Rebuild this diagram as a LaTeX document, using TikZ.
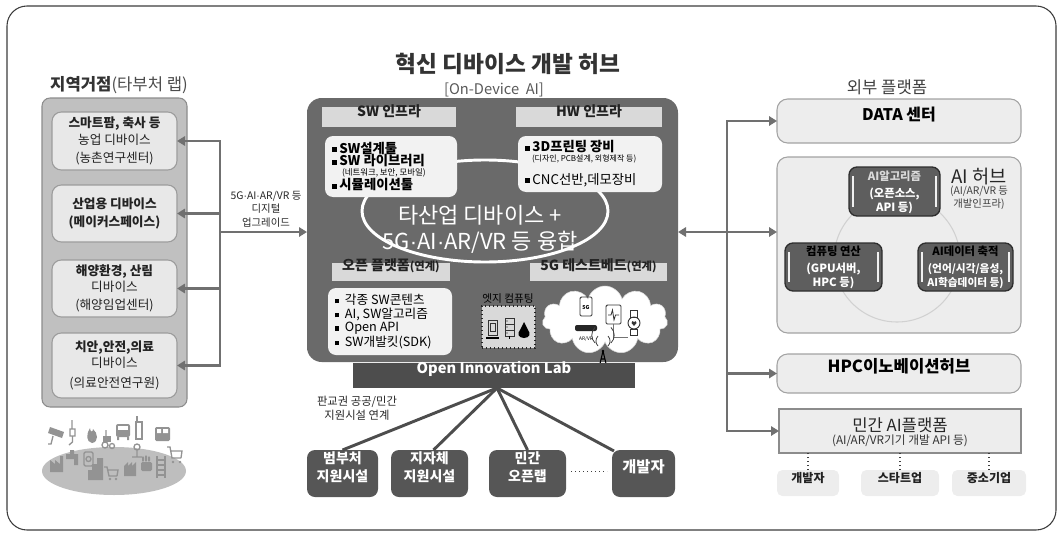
\documentclass[tikz,border=0pt]{standalone}
\usepackage{fontspec}
\setmainfont{Noto Sans CJK KR}
\newfontfamily\dotfont{Liberation Sans}
\usetikzlibrary{arrows.meta,fit,shapes.symbols,calc}

\definecolor{framec}{HTML}{3C3C3C}
\definecolor{arrowgray}{HTML}{707070}
\definecolor{panelfill}{HTML}{C0C0C0}
\definecolor{paneledge}{HTML}{8C8C8C}
\definecolor{boxfill}{HTML}{E8E8E8}
\definecolor{boxedge}{HTML}{9C9C9C}
\definecolor{hubfill}{HTML}{6A6A6A}
\definecolor{hdrfill}{HTML}{D9D9D9}
\definecolor{cardfill}{HTML}{F2F2F2}
\definecolor{darkfill}{HTML}{565656}
\definecolor{labfill}{HTML}{4D4D4D}
\definecolor{extfill}{HTML}{EDEDED}
\definecolor{extedge}{HTML}{A3A3A3}
\definecolor{glossfill}{HTML}{5E5E5E}
\definecolor{glossedge}{HTML}{2E2E2E}
\definecolor{icongray}{HTML}{939393}
\definecolor{basefill}{HTML}{BEBEBE}
\definecolor{textdark}{HTML}{222222}

\newcommand\sqb{\rule[0.1em]{0.34em}{0.34em}\hspace{0.22em}}
\newcommand\setfs[2]{\fontsize{#1}{#2}\selectfont}
\newcommand\mdot{{\dotfont ·}}

\tikzset{
  every node/.style={inner sep=0pt, outer sep=0pt, align=center},
  panel/.style={draw=paneledge, fill=panelfill, line width=0.8pt, rounded corners=6pt},
  lbox/.style={draw=boxedge, fill=boxfill, line width=0.8pt, rounded corners=7pt},
  hubbox/.style={fill=hubfill, rounded corners=11pt},
  hdr/.style={fill=hdrfill},
  card/.style={fill=cardfill, rounded corners=6pt},
  darkbox/.style={fill=darkfill, rounded corners=6pt, text=white, font=\setfs{10.5}{13.5}\bfseries},
  extbox/.style={draw=extedge, fill=extfill, line width=0.8pt, rounded corners=8pt},
  glossy/.style={draw=glossedge, fill=glossfill, line width=1pt, rounded corners=6pt},
  shine/.style={draw=white!88!gray, line width=1.1pt},
  tagbox/.style={fill=extfill, rounded corners=4pt, font=\setfs{9}{11}\bfseries, text=textdark},
  gline/.style={draw=arrowgray, line width=2.2pt, line cap=rect},
  garrow/.style={draw=arrowgray, line width=2.2pt, -{Triangle[length=6pt,width=7pt]}},
  linkline/.style={draw=labfill, line width=2.2pt},
  dotlink/.style={draw=black!75, line width=1pt, dotted},
  icon/.style={fill=icongray},
  iconline/.style={draw=icongray, line width=1pt},
  gadget/.style={draw=black!80, line width=0.7pt},
}

\begin{document}
\begin{tikzpicture}[x=0.75pt,y=-0.75pt]
\useasboundingbox (0,0) rectangle (1063,535);

% outer frame
\draw[framec, line width=0.8pt, rounded corners=15pt] (7,6) rectangle (1056,530);

% ---------------- title of the hub ----------------
\node[font=\setfs{17}{20}\bfseries, text=black!80] (title) at (508,64) {혁신 디바이스 개발 허브};
\node[font=\setfs{11}{13}, text=black!65] (subtitle) at (494,89.5) {[On-Device\ \ AI]};

% ---------------- regional sites (left) ----------------
\node[font=\setfs{12.5}{15}, text=black!80] (ltitle) at (119,85) {{\bfseries 지역거점}{\color{black!70}(타부처 랩)}};
\node[panel, fit={(42,98)(187,407)}] (lpanel) {};

\node[lbox, fit={(52,112)(177,170)}] (agri) {};
\node[font=\setfs{9.5}{12.5}, text=textdark] (agrit) at (agri.center) {{\bfseries 스마트팜, 축사 등}\\ 농업 디바이스\\[1.5pt] (농촌연구센터)};

\node[lbox, fit={(52,185)(177,242)}] (indu) {};
\node[font=\setfs{9.5}{13}\bfseries, text=textdark] (indut) at (indu.center) {산업용 디바이스\\ (메이커스페이스)};

\node[lbox, fit={(52,260)(177,317)}] (ocean) {};
\node[font=\setfs{9.5}{12}, text=textdark] (oceant) at (ocean.center) {{\bfseries 해양환경, 산림}\\ 디바이스\\[2pt] (해양임업센터)};

\node[lbox, fit={(52,333)(177,398)}] (med) {};
\node[font=\setfs{9.5}{12}, text=textdark] (medt) at (med.center) {{\bfseries 치안,안전,의료}\\ 디바이스\\[3pt] (의료안전연구원)};

% device pictograms on an ellipse
\fill[basefill] (114,471) ellipse [x radius=72, y radius=24];
\begin{scope}
  % camera
  \fill[icongray] (50,427) -- (64,432) -- (62,438) -- (48,433) -- cycle;
  \draw[iconline] (53,436) -- (51,444) -- (48,444);
  % plug
  \draw[iconline] (72,420) -- (72,429) (70,429) rectangle (75,436) (72.5,436) -- (72.5,442) -- (69,445);
  % flame
  \fill[icongray] (92,443) .. controls (86,442) and (86,434) .. (90,428) .. controls (90,432) and (93,433) .. (93,429) .. controls (98,433) and (99,442) .. (92,443) -- cycle;
  % tractor
  \fill[icongray] (103,436) rectangle (111,442);
  \draw[iconline] (105,445) circle [radius=3] (112,446) circle [radius=2.5] (106,436) -- (106,430);
  % car
  \fill[icongray, rounded corners=1.5pt] (116,424) rectangle (130,437);
  \fill[white] (118,426) rectangle (128,430);
  \fill[icongray] (117,437) rectangle (119,440) (127,437) rectangle (129,440);
  % handset
  \draw[iconline] (136,422) rectangle (142,439) (137,422) -- (137,416);
  % bus
  \fill[icongray, rounded corners=1pt] (155,427) rectangle (170,441);
  \fill[white] (157,429) rectangle (161,433) (163,429) rectangle (168,433);
  % factory
  \fill[icongray] (50,472) -- (50,460) -- (55,464) -- (55,460) -- (60,464) -- (60,456) -- (63,456) -- (63,472) -- cycle;
  % faucet
  \fill[icongray] (66,454) rectangle (78,459) (70,450) rectangle (74,454) (74,459) rectangle (78,465);
  % meter
  \draw[iconline, rounded corners=1pt] (84,452) rectangle (93,466);
  \draw[iconline] (88.5,459) circle [radius=2.5];
  % buildings
  \fill[icongray] (92,480) rectangle (97,464) (97,480) rectangle (103,458) (88,480) rectangle (92,470);
  % cart
  \draw[iconline] (104,467) -- (107,467) -- (109,476) -- (117,476) (107.5,470) -- (118,470) -- (117,476);
  \fill[icongray] (110,479) circle [radius=1.3] (116,479) circle [radius=1.3];
  % factory roof
  \fill[icongray] (124,476) -- (124,466) -- (128,462) -- (128,466) -- (132,462) -- (132,466) -- (136,462) -- (136,476) -- cycle;
  % hydrant
  \draw[iconline] (137,447) circle [radius=3] (137,450) -- (137,456) (132,457) -- (142,457);
  % hand
  \fill[icongray, rounded corners=1pt] (141,462) rectangle (152,471) (142,456) rectangle (144,462) (145,455) rectangle (147,462) (148,456) rectangle (150,462);
  % ladder
  \draw[iconline] (157,456) -- (157,478) (165,456) -- (165,478)
    (157,460) -- (165,460) (157,465) -- (165,465) (157,470) -- (165,470) (157,475) -- (165,475);
  % trolley
  \draw[iconline] (167,447) -- (170,447) -- (172,458) -- (181,458) (171,451) -- (182,451) -- (181,458);
  \fill[icongray] (173,462) circle [radius=1.3] (180,462) circle [radius=1.3];
\end{scope}

% ---------------- central hub ----------------
\node[hubbox, fit={(307,98)(678,362)}] (hub) {};
\draw[white, line width=2.2pt] (485,211) ellipse [x radius=123, y radius=51];
\node[font=\setfs{16.5}{19.5}, text=white] (fusion) at (480,229) {타산업 디바이스 +\\5G\mdot AI\mdot AR/VR 등 융합};

\node[hdr, fit={(322,107)(456,127)}, font=\setfs{10.5}{12}\bfseries, text=textdark] (swh) {SW 인프라};
\node[hdr, fit={(516,107)(662,127)}, font=\setfs{10.5}{12}\bfseries, text=textdark] (hwh) {HW 인프라};

\node[card, fit={(325,136)(457,197)}] (swc) {};
\node[anchor=west, font=\setfs{10}{12}\bfseries, text=black] (sw1) at (332,148) {\sqb SW설계툴};
\node[anchor=west, font=\setfs{10}{12}\bfseries, text=black] (sw2) at (332,161) {\sqb SW 라이브러리};
\node[anchor=west, font=\setfs{6.3}{8}, text=black] (sw3) at (342,172.5) {(네트워크, 보안, 모바일)};
\node[anchor=west, font=\setfs{10}{12}\bfseries, text=black] (sw4) at (332,185) {\sqb 시뮬레이션툴};

\node[card, fit={(518,136)(662,192)}] (hwc) {};
\node[anchor=west, font=\setfs{10}{12}\bfseries, text=black] (hw1) at (525,147) {\sqb 3D프린팅 장비};
\node[anchor=west, font=\setfs{6}{8}, text=black] (hw2) at (532,159) {(디자인, PCB설계, 외형제작 등)};
\node[anchor=west, font=\setfs{10}{12}, text=black] (hw3) at (525,180) {\sqb CNC선반,데모장비};

\node[hdr, fit={(332,263)(450,281)}, text=textdark] (oph) {{\setfs{10.5}{12}\bfseries 오픈 플랫폼}{\setfs{8.5}{12}\bfseries (연계)}};
\node[hdr, fit={(530,263)(667,281)}, text=textdark] (tbh) {{\setfs{10.5}{12}\bfseries 5G 테스트베드}{\setfs{8.5}{12}\bfseries (연계)}};

\node[card, fit={(328,288)(452,355)}] (opc) {};
\node[anchor=west, font=\setfs{9.5}{11}, text=black] (op1) at (335,300) {\sqb\ 각종 SW콘텐츠};
\node[anchor=west, font=\setfs{9.5}{11}, text=black] (op2) at (335,314.5) {\sqb\ AI, SW알고리즘};
\node[anchor=west, font=\setfs{9.5}{11}, text=black] (op3) at (335,328.5) {\sqb\ Open API};
\node[anchor=west, font=\setfs{9.5}{11}, text=black] (op4) at (335,342.5) {\sqb\ SW개발킷(SDK)};

% edge computing
\node[font=\setfs{8}{9}, text=black] (edget) at (508,299) {엣지 컴퓨팅};
\node[fit={(482,306)(535,348)}, fill=hdrfill, draw=black!85, line width=1pt, dotted] (edge) {};
\draw[gadget] (488,320) rectangle (497,335) (490,323) rectangle (495,331);
\draw[black, line width=1pt] (486,338) -- (499,338);
\draw[gadget] (505,318) rectangle (514,324) (505,324) rectangle (514,330) (505,330) rectangle (514,336);
\fill[black] (507,321) circle [radius=0.7] (507,327) circle [radius=0.7] (507,333) circle [radius=0.7];
\draw[black, line width=1pt] (509.5,336) -- (509.5,339);
\fill[black] (524,338) .. controls (518,338) and (517,333) .. (520,330) -- (524,322) -- (528,330) .. controls (531,333) and (530,338) .. (524,338) -- cycle;

% 5G testbed cloud
\node[cloud, cloud puffs=11, aspect=1.9, fill=white, draw=black!15, minimum width=94pt, minimum height=51pt] (tbcloud) at (605,320) {};
\draw[gadget, rounded corners=1pt] (580,297) rectangle (592,316);
\node[font=\setfs{4}{4}\bfseries] (tab5g) at (586,308) {5G};
\fill[black!85, rounded corners=1.5pt] (575,325) rectangle (597,331);
\node[font=\setfs{3.6}{4}] (arvr) at (586,339) {AR/VR};
\draw[gadget, rounded corners=1pt] (606,305) rectangle (621,324);
\draw[black!80, line width=0.6pt] (608,315) -- (611,315) -- (612.5,310) -- (614,320) -- (615.5,315) -- (619,315);
\draw[gadget] (634,323) circle [radius=6];
\draw[gadget] (630.5,310.5) rectangle (637.5,317) (630.5,329) rectangle (637.5,335.5);
\fill[black!80] (634,326) -- (631.5,323) .. controls (631,321) and (633.5,320.5) .. (634,322) .. controls (634.5,320.5) and (637,321) .. (636.5,323) -- cycle;
\draw[black!55, line width=0.5pt] (613,324) -- (613,337) -- (628,337);
% antenna
\draw[black, line width=0.8pt] (603,351) -- (598,372) (603,351) -- (608,372) (599.6,365) -- (606.4,365) (600.8,359) -- (605.2,359);
\fill[black] (603,351) circle [radius=1.3];
\draw[black!75, line width=0.6pt] (598,346) arc [start angle=135, end angle=225, radius=7]
  (595,343) arc [start angle=135, end angle=225, radius=11]
  (608,346) arc [start angle=45, end angle=-45, radius=7]
  (611,343) arc [start angle=45, end angle=-45, radius=11];

% open innovation lab and its partner facilities
\node[fill=labfill, fit={(353,363)(635,388)}, font=\setfs{11}{13}\bfseries, text=white] (oil) {Open Innovation Lab};
\node[font=\setfs{8.5}{10.5}, text=black!85] (oilnote) at (357,408) {판교권 공공/민간\\지원시설 연계};

\node[darkbox, fit={(307,450)(378,497)}] (gov) {범부처\\지원시설};
\node[darkbox, fit={(391,450)(468,497)}] (local) {지자체\\지원시설};
\node[darkbox, fit={(489,450)(566,497)}] (privlab) {민간\\오픈랩};
\node[darkbox, fit={(612,450)(675,497)}, font=\setfs{11.5}{13.5}\bfseries] (dev) {개발자};

\coordinate (oilj) at ($(oil.south)+(3,0)$);
\draw[linkline] (oilj) -- (gov.north);
\draw[linkline] (oilj) -- ($(local.north)+(4,0)$);
\draw[linkline] (oilj) -- (privlab.north);
\draw[linkline] (oilj) -- ($(dev.north west)+(2,1)$);
\draw[dotlink] ($(privlab.east)+(5,-2)$) -- ($(dev.west)+(-5,-2)$);

% ---------------- external platforms (right) ----------------
\node[font=\setfs{12.5}{15}, text=black!75] (rtitle) at (887,87) {외부 플랫폼};
\node[extbox, fit={(777,99)(1021,143)}, font=\setfs{12}{14}\bfseries, text=black] (data) {DATA 센터};
\node[extbox, fit={(777,157)(1021,333)}] (aihub) {};
\draw[black!18, line width=0.8pt] (897,259) circle [radius=63];
\node[font=\setfs{14}{16}, text=black!85] (aihubt) at (979,177) {AI 허브};
\node[font=\setfs{7.8}{9.5}, text=black!75] (aihubs) at (979,198) {(AI/AR/VR 등\\개발인프라)};

\node[glossy, fit={(849,167)(940,216)}] (alg) {};
\node[font=\setfs{8.5}{10}\bfseries, text=black!15] (algt) at (894.5,176) {AI알고리즘};
\node[font=\setfs{8.5}{11}\bfseries, text=white] (algb) at (894.5,201) {(오픈소스,\\API 등)};

\node[glossy, fit={(785,243)(882,291)}] (comp) {};
\node[font=\setfs{8.5}{10}\bfseries, text=black] (compt) at (833.5,251.5) {컴퓨팅 연산};
\node[font=\setfs{8.5}{11}\bfseries, text=white] (compb) at (833.5,276) {(GPU서버,\\HPC 등)};

\node[glossy, fit={(918,243)(1013,291)}] (aidata) {};
\node[font=\setfs{8.5}{10}\bfseries, text=black] (aidatat) at (965.5,251.5) {AI데이터 축적};
\node[font=\setfs{8}{11}\bfseries, text=white] (aidatab) at (965.5,276) {(언어/시각/음성,\\AI학습데이터 등)};

\foreach \g in {alg,comp,aidata}{
  \draw[shine] ($(\g.north west)+(4,9)$) -- ($(\g.south west)+(4,-9)$);
  \draw[shine] ($(\g.north east)+(-4,9)$) -- ($(\g.south east)+(-4,-9)$);
}

\node[extbox, fit={(777,354)(1021,393)}, font=\setfs{12.5}{14}\bfseries, text=black] (hpc) {HPC이노베이션허브};
\node[fill=extfill, draw=black!45, line width=0.8pt, fit={(779,409)(1021,453)}] (plat) {};
\node[font=\setfs{12.5}{14}, text=black!85] (platt) at (900,425) {민간 AI플랫폼};
\node[font=\setfs{8.8}{10}, text=black!80] (plats) at (900,441) {(AI/AR/VR기기 개발 API 등)};

\node[tagbox, fit={(777,470)(839,496)}] (tdev) {개발자};
\node[tagbox, fit={(861,470)(939,496)}] (tstart) {스타트업};
\node[tagbox, fit={(952,470)(1026,496)}] (tsme) {중소기업};
\foreach \t in {tdev,tstart,tsme}{
  \draw[dotlink] (\t.north) -- (\t.north |- plat.south);
}

% ---------------- connectors ----------------
\coordinate (trunkL) at (220,0);
\draw[gline] (agri.east -| trunkL) -- (med.east -| trunkL);
\foreach \b in {agri,indu,ocean,med}{
  \draw[garrow] (\b.east -| trunkL) -- (\b.east);
}
\coordinate (digiL) at (220,232);
\draw[garrow] (digiL) -- (digiL -| hub.west);
\node[font=\setfs{7.8}{10}, text=black!85] (digit) at (266,209) {5G\mdot AI\mdot AR/VR 등\\디지털\\업그레이드};

\coordinate (trunkR) at (727,0);
\draw[gline] (data.west -| trunkR) -- (plat.west -| trunkR);
\foreach \b in {data,hpc,plat}{
  \draw[garrow] (\b.west -| trunkR) -- (\b.west);
}
\coordinate (linkY) at (0,232);
\draw[draw=arrowgray, line width=2.2pt, {Triangle[length=6pt,width=7pt]}-{Triangle[length=6pt,width=7pt]}] (hub.east |- linkY) -- (aihub.west |- linkY);

\end{tikzpicture}
\end{document}
